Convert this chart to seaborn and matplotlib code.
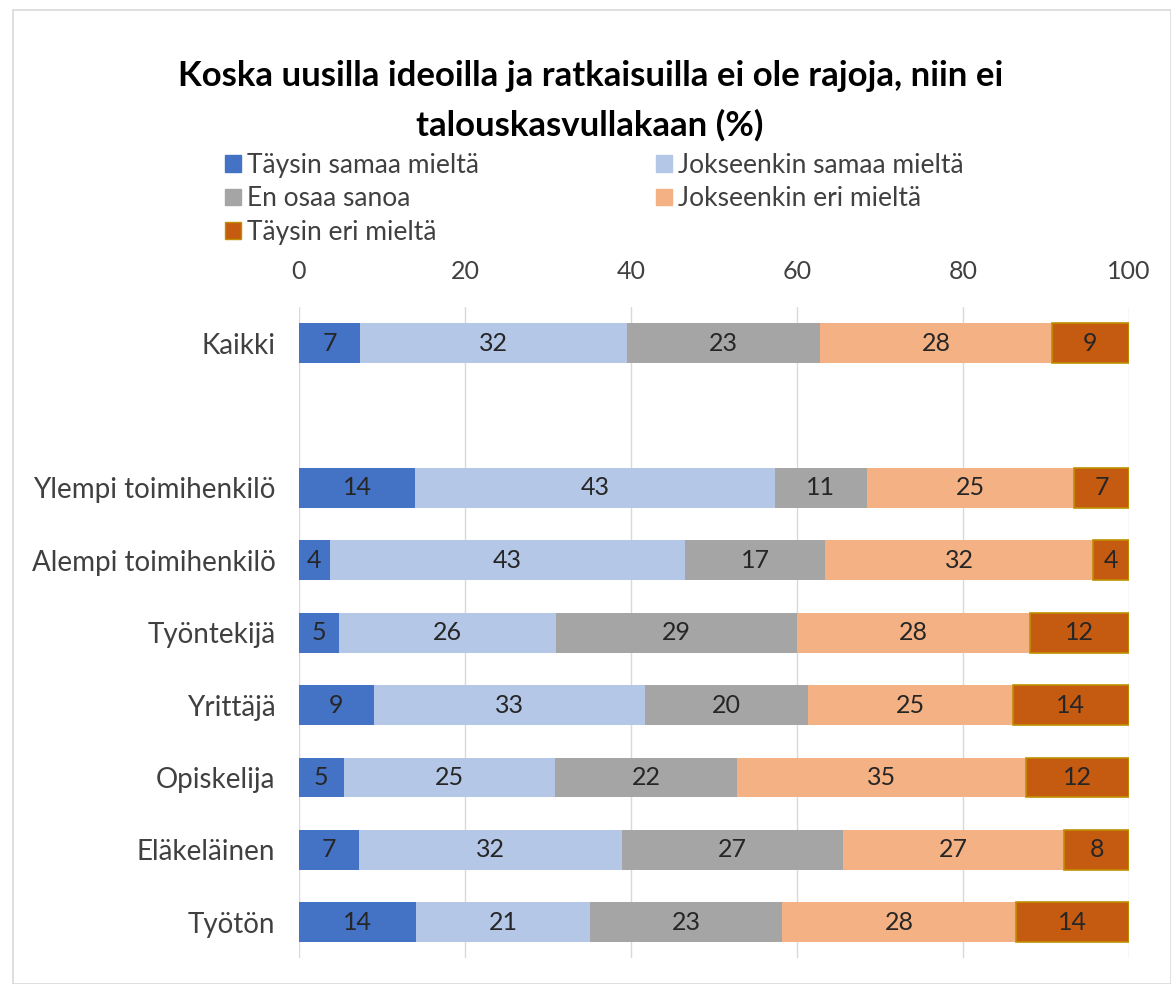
import matplotlib
matplotlib.use("Agg")
import matplotlib.pyplot as plt
import seaborn as sns
import pandas as pd
import numpy as np
from matplotlib.patches import Rectangle, Patch

categories = ["Kaikki", "", "Ylempi toimihenkilö", "Alempi toimihenkilö", "Työntekijä",
              "Yrittäjä", "Opiskelija", "Eläkeläinen", "Työtön"]
data_cats = ["Kaikki", "Ylempi toimihenkilö", "Alempi toimihenkilö", "Työntekijä",
             "Yrittäjä", "Opiskelija", "Eläkeläinen", "Työtön"]
series_names = ["Täysin samaa mieltä", "Jokseenkin samaa mieltä", "En osaa sanoa",
                "Jokseenkin eri mieltä", "Täysin eri mieltä"]
taysin_samaa = [7.4, 14.0, 3.7, 4.8, 9.0, 5.4, 7.2, 14.1]
jokseenkin_samaa = [32.1, 43.3, 42.8, 26.2, 32.7, 25.4, 31.7, 21.0]
en_osaa = [23.3, 11.1, 16.9, 29.0, 19.6, 22.0, 26.6, 23.1]
jokseenkin_eri = [27.9, 25.0, 32.3, 28.1, 24.7, 34.8, 26.7, 28.2]
taysin_eri = [9.3, 6.6, 4.3, 11.9, 14.0, 12.4, 7.8, 13.6]
x_ticks = [0, 20, 40, 60, 80, 100]
title = "Koska uusilla ideoilla ja ratkaisuilla ei ole rajoja, niin ei\ntalouskasvullakaan (%)"

colors = ["#4472C4", "#B4C7E7", "#A5A5A5", "#F4B183", "#C55A11"]
edges = [None, None, None, None, "#C09000"]

sns.set_theme(style="white")
plt.rcParams["font.family"] = ["Lato", "DejaVu Sans"]

fig = plt.figure(figsize=(11.71, 9.84), dpi=100)
ax = fig.add_axes([0.2553, 0.026, 0.7088, 0.662])

all_series = [taysin_samaa, jokseenkin_samaa, en_osaa, jokseenkin_eri, taysin_eri]
left = np.zeros(len(data_cats))
for name, vals, col, ec in zip(series_names, all_series, colors, edges):
    df = pd.DataFrame({"cat": data_cats, "val": vals})
    sns.barplot(data=df, x="val", y="cat", order=categories, color=col, width=0.55,
                orient="h", ax=ax, saturation=1, errorbar=None,
                edgecolor=ec if ec else col, linewidth=1.2 if ec else 0)
    cont = ax.containers[-1]
    lefts = dict(zip(data_cats, left))
    valmap = dict(zip(data_cats, vals))
    labels = []
    for rect in cont:
        idx = int(round(rect.get_y() + rect.get_height() / 2))
        cat = categories[idx]
        rect.set_x(lefts[cat])
        labels.append(f"{valmap[cat]:.0f}")
    ax.bar_label(cont, labels=labels, label_type="center", fontsize=18, color="#262626")
    left = left + np.array(vals)

ax.set_xlim(0, 100)
ax.set_xticks(x_ticks)
ax.xaxis.tick_top()
ax.set_xlabel("")
ax.set_ylabel("")
ax.tick_params(axis="x", labelsize=18, labelcolor="#404040", length=0, pad=17)
ax.tick_params(axis="y", labelsize=20, labelcolor="#404040", length=0, pad=17)
ax.grid(axis="x", color="#D9D9D9", linewidth=1)
ax.set_axisbelow(True)
for s in ax.spines.values():
    s.set_visible(False)

fig.text(0.504, 0.939, title, ha="center", va="top", fontsize=25, fontweight="bold",
         color="#000000", linespacing=1.62)

handles = [Patch(facecolor=c, edgecolor=(e if e else c)) for c, e in zip(colors, edges)]
order_idx = [0, 2, 4, 1, 3]
leg = fig.legend([handles[i] for i in order_idx], [series_names[i] for i in order_idx],
                 ncol=2, loc="upper left", bbox_to_anchor=(0.192, 0.845), frameon=False,
                 fontsize=19, handlelength=0.6, handleheight=0.6, handletextpad=0.25,
                 labelspacing=0.33, columnspacing=6.7, borderaxespad=0, borderpad=0)
for t in leg.get_texts():
    t.set_color("#404040")

fig.patches.append(Rectangle((0.011, 0.0), 0.989, 0.99, transform=fig.transFigure,
                             fill=False, edgecolor="#D9D9D9", linewidth=1.2))
fig.savefig("out.png", dpi=100)
